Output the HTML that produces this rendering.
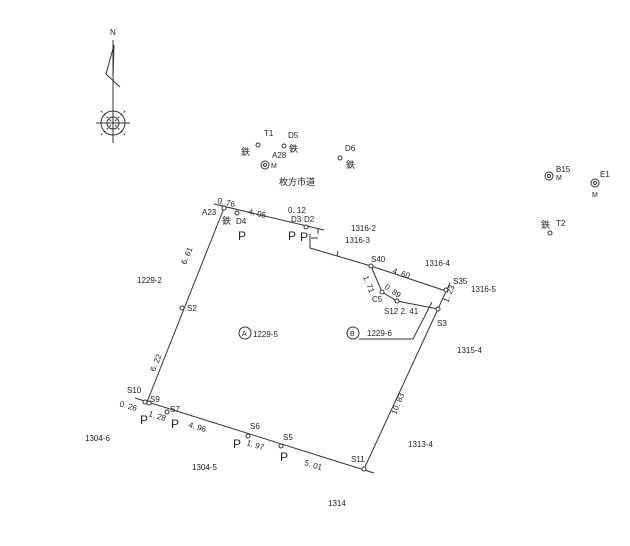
<!DOCTYPE html>
<html><head><meta charset="utf-8"><style>
html,body{margin:0;padding:0;background:#fff;}
svg{display:block;}
text{font-family:"Liberation Sans","Noto Sans CJK JP",sans-serif;fill:#222;}
</style></head><body>
<svg width="630" height="546" viewBox="0 0 630 546" xmlns="http://www.w3.org/2000/svg">
<g stroke="#333" stroke-width="1" fill="none">
<!-- north arrow -->
<line x1="113" y1="40" x2="113" y2="143"/>
<polyline points="114,45 106,74 120,87"/>
<line x1="114" y1="45" x2="113" y2="78"/>
<circle cx="113" cy="123" r="12"/>
<circle cx="113" cy="123" r="6"/>
<line x1="96" y1="123" x2="130" y2="123"/>
<line x1="101" y1="111" x2="125" y2="135" stroke-dasharray="2,2"/>
<line x1="125" y1="111" x2="101" y2="135" stroke-dasharray="2,2"/>
<!-- top boundary -->
<line x1="214" y1="204" x2="324" y2="230"/>
<line x1="318" y1="228" x2="318" y2="234"/>
<line x1="311" y1="238" x2="318" y2="238"/>
<polyline points="310,234 310,248 371,266 446,291"/>
<line x1="337" y1="256" x2="338" y2="251"/>
<!-- left -->
<line x1="224" y1="208" x2="147" y2="402"/>
<!-- bottom -->
<line x1="135" y1="398" x2="374" y2="473"/>
<!-- right -->
<line x1="450" y1="283" x2="364" y2="469"/>
<!-- inner -->
<polyline points="371,266 382,292 397,301 438,309"/>
<line x1="432" y1="302" x2="413" y2="339"/>
<line x1="413" y1="339" x2="359" y2="339"/>
<circle cx="353" cy="333" r="6"/>
<circle cx="245" cy="333" r="6"/>
<!-- points -->
<g fill="#fff">
<circle cx="224" cy="208" r="2"/><circle cx="237" cy="213" r="2"/>
<circle cx="306" cy="227" r="2"/><circle cx="371" cy="266" r="2"/>
<circle cx="446" cy="290" r="2"/><circle cx="438" cy="309" r="2"/>
<circle cx="382" cy="292" r="2"/><circle cx="397" cy="301" r="2"/>
<circle cx="182" cy="308" r="2"/><circle cx="145" cy="402" r="2"/>
<circle cx="149" cy="403" r="2"/><circle cx="167" cy="412" r="2"/>
<circle cx="248" cy="436" r="2"/><circle cx="281" cy="446" r="2"/>
<circle cx="364" cy="469" r="2"/>
<circle cx="258" cy="145" r="2"/><circle cx="284" cy="146" r="2"/>
<circle cx="340" cy="158" r="2"/><circle cx="550" cy="233" r="2"/>
<circle cx="265" cy="165" r="4"/><circle cx="549" cy="176" r="4"/><circle cx="595" cy="183" r="4"/>
</g>
<circle cx="265" cy="165" r="1.5"/><circle cx="549" cy="176" r="1.5"/><circle cx="595" cy="183" r="1.5"/>
</g>
<g font-size="8">
<text x="110" y="35">N</text>
<text x="264" y="136">T1</text><text x="288" y="138">D5</text>
<text x="241" y="155" font-size="9">鉄</text><text x="289" y="152" font-size="9">鉄</text>
<text x="272" y="158">A28</text><text x="271" y="168" font-size="7">M</text>
<text x="345" y="151">D6</text><text x="346" y="168" font-size="9">鉄</text>
<text x="279" y="185" font-size="9">枚方市道</text>
<text x="556" y="172">B15</text><text x="556" y="180" font-size="7">M</text>
<text x="600" y="177">E1</text><text x="592" y="197" font-size="7">M</text>
<text x="541" y="228" font-size="9">鉄</text><text x="556" y="226">T2</text>
<text x="217" y="203" transform="rotate(13 217 203)">0. 76</text>
<text x="202" y="215">A23</text><text x="222" y="224" font-size="9">鉄</text>
<text x="236" y="224">D4</text>
<text x="238" y="240" font-size="12">P</text>
<text x="248" y="214" transform="rotate(13 248 214)">4. 05</text>
<text x="288" y="213">0. 12</text>
<text x="291" y="222">D3</text><text x="304" y="222">D2</text>
<text x="288" y="240" font-size="12">P</text><text x="300" y="241" font-size="12">P</text>
<text x="351" y="231">1316-2</text><text x="345" y="243">1316-3</text>
<text x="371" y="262">S40</text>
<text x="392" y="273" transform="rotate(18 392 273)">4. 60</text>
<text x="425" y="266">1316-4</text>
<text x="453" y="284">S35</text><text x="471" y="292">1316-5</text>
<text x="363" y="277" transform="rotate(68 363 277)">1. 71</text>
<text x="384" y="288" transform="rotate(35 384 288)">0. 89</text>
<text x="372" y="302">C5</text>
<text x="384" y="314">S12 2. 41</text>
<text x="448" y="303" transform="rotate(-68 448 303)">1. 23</text>
<text x="437" y="326">S3</text>
<text x="367" y="336">1229-6</text>
<text x="350" y="336" font-size="7">B</text>
<text x="242" y="336" font-size="7">A</text>
<text x="253" y="337">1229-5</text>
<text x="457" y="353">1315-4</text>
<text x="137" y="283">1229-2</text>
<text x="186" y="265" transform="rotate(-68 186 265)">6. 61</text>
<text x="187" y="311">S2</text>
<text x="155" y="372" transform="rotate(-68 155 372)">6. 22</text>
<text x="127" y="393">S10</text>
<text x="150" y="402">S9</text>
<text x="170" y="412">S7</text>
<text x="119" y="406" transform="rotate(17 119 406)">0. 26</text>
<text x="140" y="424" font-size="12">P</text>
<text x="148" y="416" transform="rotate(17 148 416)">1. 28</text>
<text x="171" y="428" font-size="12">P</text>
<text x="188" y="427" transform="rotate(17 188 427)">4. 96</text>
<text x="250" y="429">S6</text>
<text x="233" y="448" font-size="12">P</text>
<text x="246" y="445" transform="rotate(17 246 445)">1. 97</text>
<text x="283" y="440">S5</text>
<text x="280" y="461" font-size="12">P</text>
<text x="304" y="465" transform="rotate(17 304 465)">5. 01</text>
<text x="351" y="462">S11</text>
<text x="396" y="415" transform="rotate(-68 396 415)">10. 83</text>
<text x="408" y="447">1313-4</text>
<text x="85" y="441">1304-6</text>
<text x="192" y="470">1304-5</text>
<text x="328" y="506">1314</text>
</g>
</svg>
</body></html>
